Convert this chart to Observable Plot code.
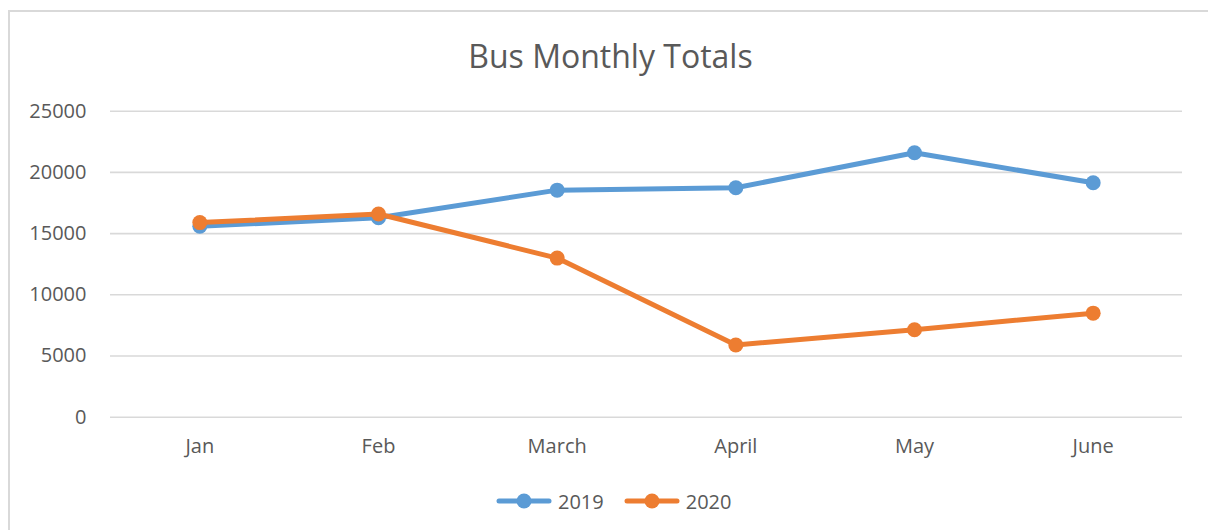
<!DOCTYPE html>
<html>
<head>
<meta charset="utf-8">
<script src="https://cdn.jsdelivr.net/npm/d3@7"></script>
<script src="https://cdn.jsdelivr.net/npm/@observablehq/plot@0.6"></script>
<style>
  html, body { margin: 0; padding: 0; background: #fff; }
  body { width: 1208px; height: 530px; overflow: hidden; position: relative; font-family: "Open Sans", sans-serif; color: #595959; }
  #frame { position: absolute; left: 8px; top: 10px; width: 1300px; height: 700px; border-left: 2px solid #d9d9d9; border-top: 2px solid #d9d9d9; box-sizing: border-box; }
  #title { position: absolute; left: 0; width: 1221px; top: 34px; text-align: center; font-size: 32px; line-height: 44px; color: #595959; }
  #chart { position: absolute; left: 0; top: 90px; }
  #legend { position: absolute; top: 486px; left: 496px; height: 30px; display: flex; align-items: center; font-size: 20px; color: #595959; }
  #legend .item { display: flex; align-items: center; margin-right: 20px; }
  #legend svg { margin-right: 6px; }
</style>
</head>
<body>
<div id="frame"></div>
<div id="title">Bus Monthly Totals</div>
<div id="chart"></div>
<div id="legend"></div>
<script>
const months = ["Jan", "Feb", "March", "April", "May", "June"];
const series = ["2019", "2020"];
const values2019 = [15600, 16300, 18550, 18750, 21600, 19150];
const values2020 = [15900, 16600, 13000, 5900, 7150, 8500];
const yTicks = [0, 5000, 10000, 15000, 20000, 25000];
const colors = ["#5B9BD5", "#ED7D31"];

const data = [
  ...months.map((m, i) => ({month: m, value: values2019[i], series: "2019"})),
  ...months.map((m, i) => ({month: m, value: values2020[i], series: "2020"}))
];

const seriesMarks = series.flatMap((s) => {
  const d = data.filter(r => r.series === s);
  return [
    Plot.line(d, {x: "month", y: "value", stroke: "series", strokeWidth: 5, strokeLinejoin: "round", strokeLinecap: "round"}),
    Plot.dot(d, {x: "month", y: "value", fill: "series", r: 7.5, stroke: "none"})
  ];
});

const chart = Plot.plot({
  width: 1208,
  height: 380,
  marginLeft: 110,
  marginRight: 26,
  marginTop: 20.7,
  marginBottom: 53.3,
  style: {fontFamily: "Open Sans, sans-serif", fontSize: "20px", color: "#595959", background: "transparent"},
  x: {domain: months, type: "band", padding: 0, round: false, label: null},
  y: {domain: [0, 25000], label: null},
  color: {domain: series, range: colors},
  marks: [
    Plot.gridY(yTicks, {stroke: "#d9d9d9", strokeOpacity: 1, strokeWidth: 1.6}),
    Plot.axisY(yTicks, {tickSize: 0, tickPadding: 24, tickFormat: d => String(d), fontSize: 20, fill: "#595959"}),
    Plot.axisX({tickSize: 0, tickPadding: 22, fontSize: 20, fill: "#595959"}),
    ...seriesMarks
  ]
});
document.getElementById("chart").appendChild(chart);

const legend = document.getElementById("legend");
series.forEach((s, i) => {
  const item = document.createElement("div");
  item.className = "item";
  item.innerHTML = `<svg width="56" height="18"><line x1="3" y1="9" x2="53" y2="9" stroke="${colors[i]}" stroke-width="5" stroke-linecap="round"/><circle cx="28" cy="9" r="7.5" fill="${colors[i]}"/></svg><span>${s}</span>`;
  legend.appendChild(item);
});
</script>
</body>
</html>
